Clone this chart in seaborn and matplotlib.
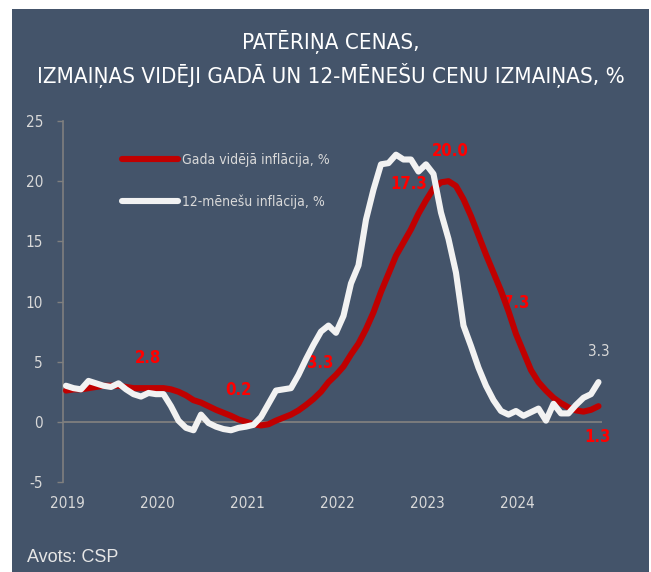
import numpy as np
import pandas as pd
import matplotlib
matplotlib.use("Agg")
import matplotlib.pyplot as plt
import seaborn as sns
from matplotlib.patches import Rectangle
from matplotlib import font_manager

# ---------------- data ----------------
years = ["2019", "2020", "2021", "2022", "2023", "2024"]

avg_infl = [2.6, 2.7, 2.7, 2.8, 2.9, 3.0, 3.0, 3.0, 2.9, 2.8, 2.8, 2.8,
            2.8, 2.8, 2.7, 2.5, 2.2, 1.8, 1.6, 1.3, 1.0, 0.75, 0.5, 0.2,
            0.0, -0.2, -0.3, -0.2, 0.1, 0.35, 0.6, 0.95, 1.4, 1.9, 2.5, 3.3,
            3.9, 4.6, 5.6, 6.5, 7.7, 9.1, 10.8, 12.3, 13.8, 14.9, 16.0, 17.3,
            18.4, 19.4, 19.9, 20.0, 19.6, 18.5, 17.1, 15.5, 13.9, 12.4, 10.9, 9.2,
            7.3, 5.8, 4.3, 3.3, 2.6, 2.0, 1.55, 1.2, 0.95, 0.85, 1.0, 1.3]

m12_infl = [3.0, 2.8, 2.7, 3.4, 3.2, 3.0, 2.9, 3.2, 2.7, 2.3, 2.1, 2.4,
            2.3, 2.3, 1.3, 0.1, -0.5, -0.7, 0.6, -0.1, -0.4, -0.6, -0.7, -0.5,
            -0.4, -0.25, 0.4, 1.5, 2.6, 2.7, 2.8, 3.9, 5.2, 6.4, 7.5, 8.0,
            7.4, 8.8, 11.5, 13.0, 16.8, 19.3, 21.4, 21.5, 22.2, 21.8, 21.8, 20.8,
            21.4, 20.6, 17.4, 15.2, 12.4, 8.0, 6.3, 4.5, 3.0, 1.8, 0.9, 0.6,
            0.9, 0.5, 0.8, 1.1, 0.1, 1.5, 0.7, 0.7, 1.4, 2.0, 2.3, 3.3]

series_names = ["Gada vidējā inflācija, %", "12-mēnešu inflācija, %"]

red_label_idx = [11, 23, 35, 47, 51, 60, 71]
red_label_txt = ["2.8", "0.2", "3.3", "17.3", "20.0", "7.3", "1.3"]
red_label_off = [(0, 21.5), (0, 21.5), (-6, 14), (-7, 21), (1, 22), (0, 22.5), (-1, -22)]
white_label_idx = [71]
white_label_txt = ["3.3"]

yticks = [-5, 0, 5, 10, 15, 20, 25]

# ---------------- style ----------------
PANEL = "#44546A"
RED = "#C00000"
WHITE = "#F2F2F2"
LABEL_RED = "#FF0000"
GREY = "#7F7F7F"
TICK_TXT = "#D9D9D9"

avail = {f.name for f in font_manager.fontManager.ttflist}
NARROW = "Liberation Sans Narrow" if "Liberation Sans Narrow" in avail else "DejaVu Sans"
STRETCH = "normal" if NARROW == "Liberation Sans Narrow" else "condensed"

sns.set_style("white")
plt.rcParams["font.family"] = [NARROW, "DejaVu Sans"]

W, H = 651, 572
fig = plt.figure(figsize=(W / 100, H / 100), dpi=100, facecolor="white")
fig.patches.append(Rectangle((12 / W, 0), 637 / W, 563 / H, transform=fig.transFigure,
                             facecolor=PANEL, edgecolor="none", zorder=-10))

ax_left, ax_right = 63, 602
ax_top, ax_bot = 121, 482
ax = fig.add_axes([ax_left / W, 1 - ax_bot / H, (ax_right - ax_left) / W, (ax_bot - ax_top) / H])
ax.patch.set_alpha(0)

n = len(avg_infl)
idx = np.arange(n)
df = pd.DataFrame({
    "idx": np.concatenate([idx, idx]),
    "value": avg_infl + m12_infl,
    "series": [series_names[0]] * n + [series_names[1]] * n,
})

ax.axhline(0, color=GREY, lw=1.3, zorder=1)
sns.lineplot(data=df, x="idx", y="value", hue="series", hue_order=series_names,
             palette=[RED, WHITE], linewidth=4.4, ax=ax,
             solid_capstyle="round", solid_joinstyle="round", zorder=3)

ax.set_xlim(-0.4, 71.47)
ax.set_ylim(-5, 25)
ax.set_xlabel("")
ax.set_ylabel("")

for s in ["top", "right", "bottom"]:
    ax.spines[s].set_visible(False)
ax.spines["left"].set_color(GREY)
ax.spines["left"].set_linewidth(1.2)

ax.set_yticks(yticks)
ax.set_yticklabels([str(t) for t in yticks])
ax.set_xticks([12 * i + 0.25 for i in range(len(years))])
ax.set_xticklabels(years)
ax.tick_params(axis="y", which="both", left=True, length=4.3, width=1.0, color=GREY,
               pad=10, labelsize=11, labelcolor=TICK_TXT)
ax.tick_params(axis="x", which="both", bottom=False, length=0, pad=10,
               labelsize=11, labelcolor=TICK_TXT)
for lab in ax.get_xticklabels() + ax.get_yticklabels():
    lab.set_fontstretch(STRETCH)

# annotations
for i, t, off in zip(red_label_idx, red_label_txt, red_label_off):
    ax.annotate(t, xy=(i, avg_infl[i]), xytext=off, textcoords="offset points",
                ha="center", va="center", color=LABEL_RED, fontsize=12,
                fontweight="bold", fontstretch=STRETCH, zorder=2)
for i, t in zip(white_label_idx, white_label_txt):
    ax.annotate(t, xy=(i, m12_infl[i]), xytext=(0, 21.8), textcoords="offset points",
                ha="center", va="center", color=TICK_TXT, fontsize=11,
                fontstretch=STRETCH, zorder=2)

# legend
leg = ax.legend(loc="center left", bbox_to_anchor=(122 / W, 1 - 181 / H),
                bbox_transform=fig.transFigure, frameon=False, fontsize=10,
                handlelength=4.0, handletextpad=0.35, labelspacing=2.0,
                borderpad=0, borderaxespad=0)
for txt in leg.get_texts():
    txt.set_color(TICK_TXT)
    txt.set_fontstretch(STRETCH)
for line in leg.get_lines():
    line.set_linewidth(4.4)
    line.set_solid_capstyle("round")

# title
fig.text(331 / W, 1 - 42 / H, "PATĒRIŅA CENAS,", ha="center", va="center",
         color="white", fontsize=16, fontstretch=STRETCH)
fig.text(331 / W, 1 - 75 / H, "IZMAIŅAS VIDĒJI GADĀ UN 12-MĒNEŠU CENU IZMAIŅAS, %",
         ha="center", va="center", color="white", fontsize=16, fontstretch=STRETCH)

# source
fig.text(27 / W, 1 - 558 / H, "Avots: CSP", ha="left", va="center", color="#E6E6E6",
         fontsize=13, family=["Liberation Sans", "DejaVu Sans"])

fig.savefig("out.png", dpi=100, facecolor=fig.get_facecolor())
